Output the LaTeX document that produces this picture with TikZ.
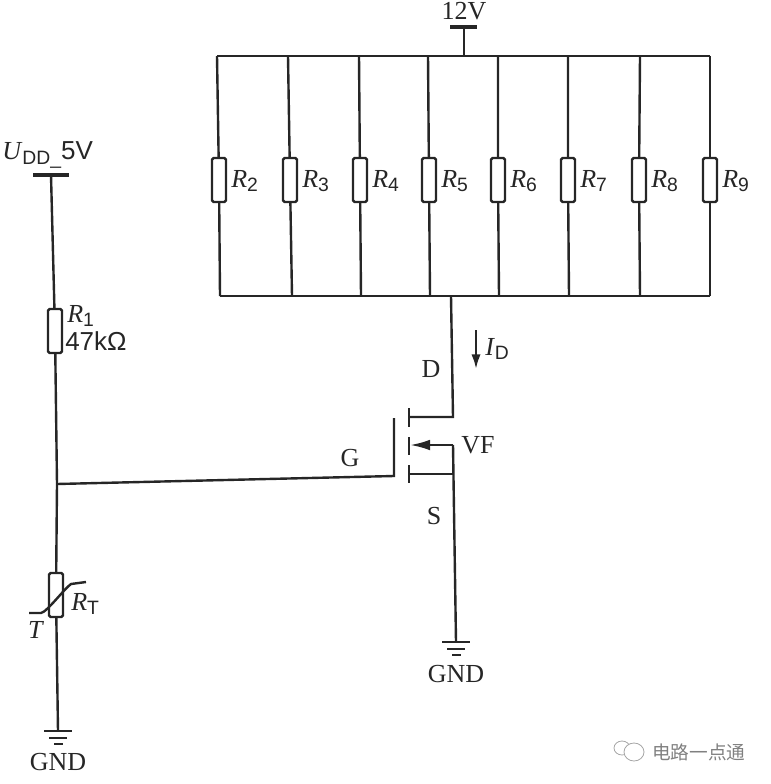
\documentclass[tikz,border=0pt]{standalone}
\usepackage{fontspec}
\setmainfont{Liberation Serif}
\setsansfont{Liberation Sans}
\newfontfamily\cjkfont{Noto Sans CJK SC}
\usepackage{tikz}
\usetikzlibrary{arrows.meta}
\newcommand{\subtxt}[2]{\textit{#1}\raisebox{-0.35ex}{\fontsize{14.5}{16}\selectfont\sffamily #2}}
\tikzset{
  wire/.style={line width=1.8pt,black!85},
  resbox/.style={draw,wire,rectangle,rounded corners=1.2pt,minimum width=10.5pt,minimum height=33pt,inner sep=0pt},
  lbl/.style={inner sep=0pt,font=\fontsize{19.5}{21}\selectfont,black!85},
  gndsym/.pic={
    \draw [wire] (-14,0) -- (14,0);
    \draw [wire] (-9,7) -- (9,7);
    \draw [wire] (-4,13) -- (5,13);
  }
}

\begin{document}
\begin{tikzpicture}[x=0.75pt,y=-0.75pt]
\useasboundingbox (0,0) rectangle (770,784);
% resistor bank
\foreach \n/\xt/\xr/\xb in {2/217/219/220,3/288/290/292,4/359/360/361,5/428/429/430,6/498/498/499,7/568/568/569,8/640/639/640,9/710/710/710} {
  \coordinate (top\n) at (\xt,56);
  \coordinate (bot\n) at (\xb,296);
  \node [resbox] (R\n) at (\xr,180) {};
  \node [lbl,right] (lab\n) at (\xr+12,181) {\subtxt{R}{\n}};
  \draw [wire] (top\n) -- (R\n) -- (bot\n);
}
\draw [wire] (top2) -- (top9);
\draw [wire] (bot2) -- (bot9);
% 12V supply
\coordinate (bar12a) at (450,27);
\coordinate (bar12b) at (477,27);
\coordinate (bar12m) at (464,27);
\coordinate (bus12) at (464,56);
\draw [wire,line width=2.6pt] (bar12a) -- (bar12b);
\draw [wire] (bar12m) -- (bus12);
\node [lbl] (v12) at (464,11) {12V};
% left branch
\coordinate (barUa) at (33,175);
\coordinate (barUb) at (69,175);
\coordinate (barUm) at (51,175);
\coordinate (gate) at (57,484);
\coordinate (gnd1) at (58,731);
\node [resbox] (R1) at (55,331) {};
\node [resbox] (RT) at (56,595) {};
\draw [wire,line width=2.6pt] (barUa) -- (barUb);
\draw [wire] (barUm) -- (R1) -- (gate) -- (RT) -- (gnd1);
\node [lbl,right] (lUdd) at (2,155) {\subtxt{U}{DD\_}{\sffamily 5V}};
\node [lbl,right] (lR1) at (67,316) {\subtxt{R}{1}};
\node [lbl,right,font=\fontsize{19.5}{21}\selectfont\sffamily] (lR1v) at (65,341) {47kΩ};
\node [lbl,right] (lRT) at (71,604) {\subtxt{R}{T}};
\node [lbl] (lT) at (36,630) {\textit{T}};
% thermistor mark
\coordinate (tha) at (29,613);
\coordinate (thb) at (86,582);
\draw [wire] (tha) -- (41,613) .. controls (47,612) and (64,589) .. (71,584) -- (thb);
\pic at (gnd1) {gndsym};
\node [lbl] (gndL) at (58,762) {GND};
% MOSFET
\coordinate (busB) at (451,296);
\coordinate (dr) at (453,417);
\coordinate (drc) at (409,417);
\coordinate (sa) at (453,445);
\coordinate (sac) at (410,445);
\coordinate (sb) at (453,474);
\coordinate (sbc) at (409,474);
\coordinate (gtop) at (394,418);
\coordinate (gbot) at (394,476);
\coordinate (gnd2) at (456,642);
\draw [wire] (busB) -- (dr) -- (drc);
\draw [wire] (sb) -- (sbc);
\draw [wire] (gate) -- (gbot) -- (gtop);
\draw [wire,-{Latex[length=15pt,width=8pt]}] (sa) -- (sac);
\draw [wire] (sa) -- (gnd2);
\foreach \ya/\yb [count=\i] in {408/427,437/455,465/483} {
  \coordinate (cha\i) at (409,\ya);
  \coordinate (chb\i) at (409,\yb);
  \draw [wire,line width=2pt] (cha\i) -- (chb\i);
}
\pic at (gnd2) {gndsym};
\node [lbl] (gndR) at (456,674) {GND};
\node [lbl] (lD) at (431,369) {D};
\node [lbl] (lG) at (350,458) {G};
\node [lbl] (lS) at (434,516) {S};
\node [lbl] (lVF) at (478,445) {VF};
% current arrow
\coordinate (ida) at (476,330);
\coordinate (idb) at (476,369);
\draw [wire,-{Latex[length=11pt,width=7pt]}] (ida) -- (idb);
\node [lbl,right] (lID) at (485,349) {\subtxt{I}{D}};
% watermark
\draw [black!35,line width=0.6pt] (622,748) ellipse (8 and 7);
\draw [black!35,line width=0.6pt,fill=white] (634,752) ellipse (10 and 9);
\node [inner sep=0pt,right,font=\fontsize{14}{16}\selectfont\cjkfont,black!50] (mark) at (652,752) {电路一点通};
\end{tikzpicture}
\end{document}
